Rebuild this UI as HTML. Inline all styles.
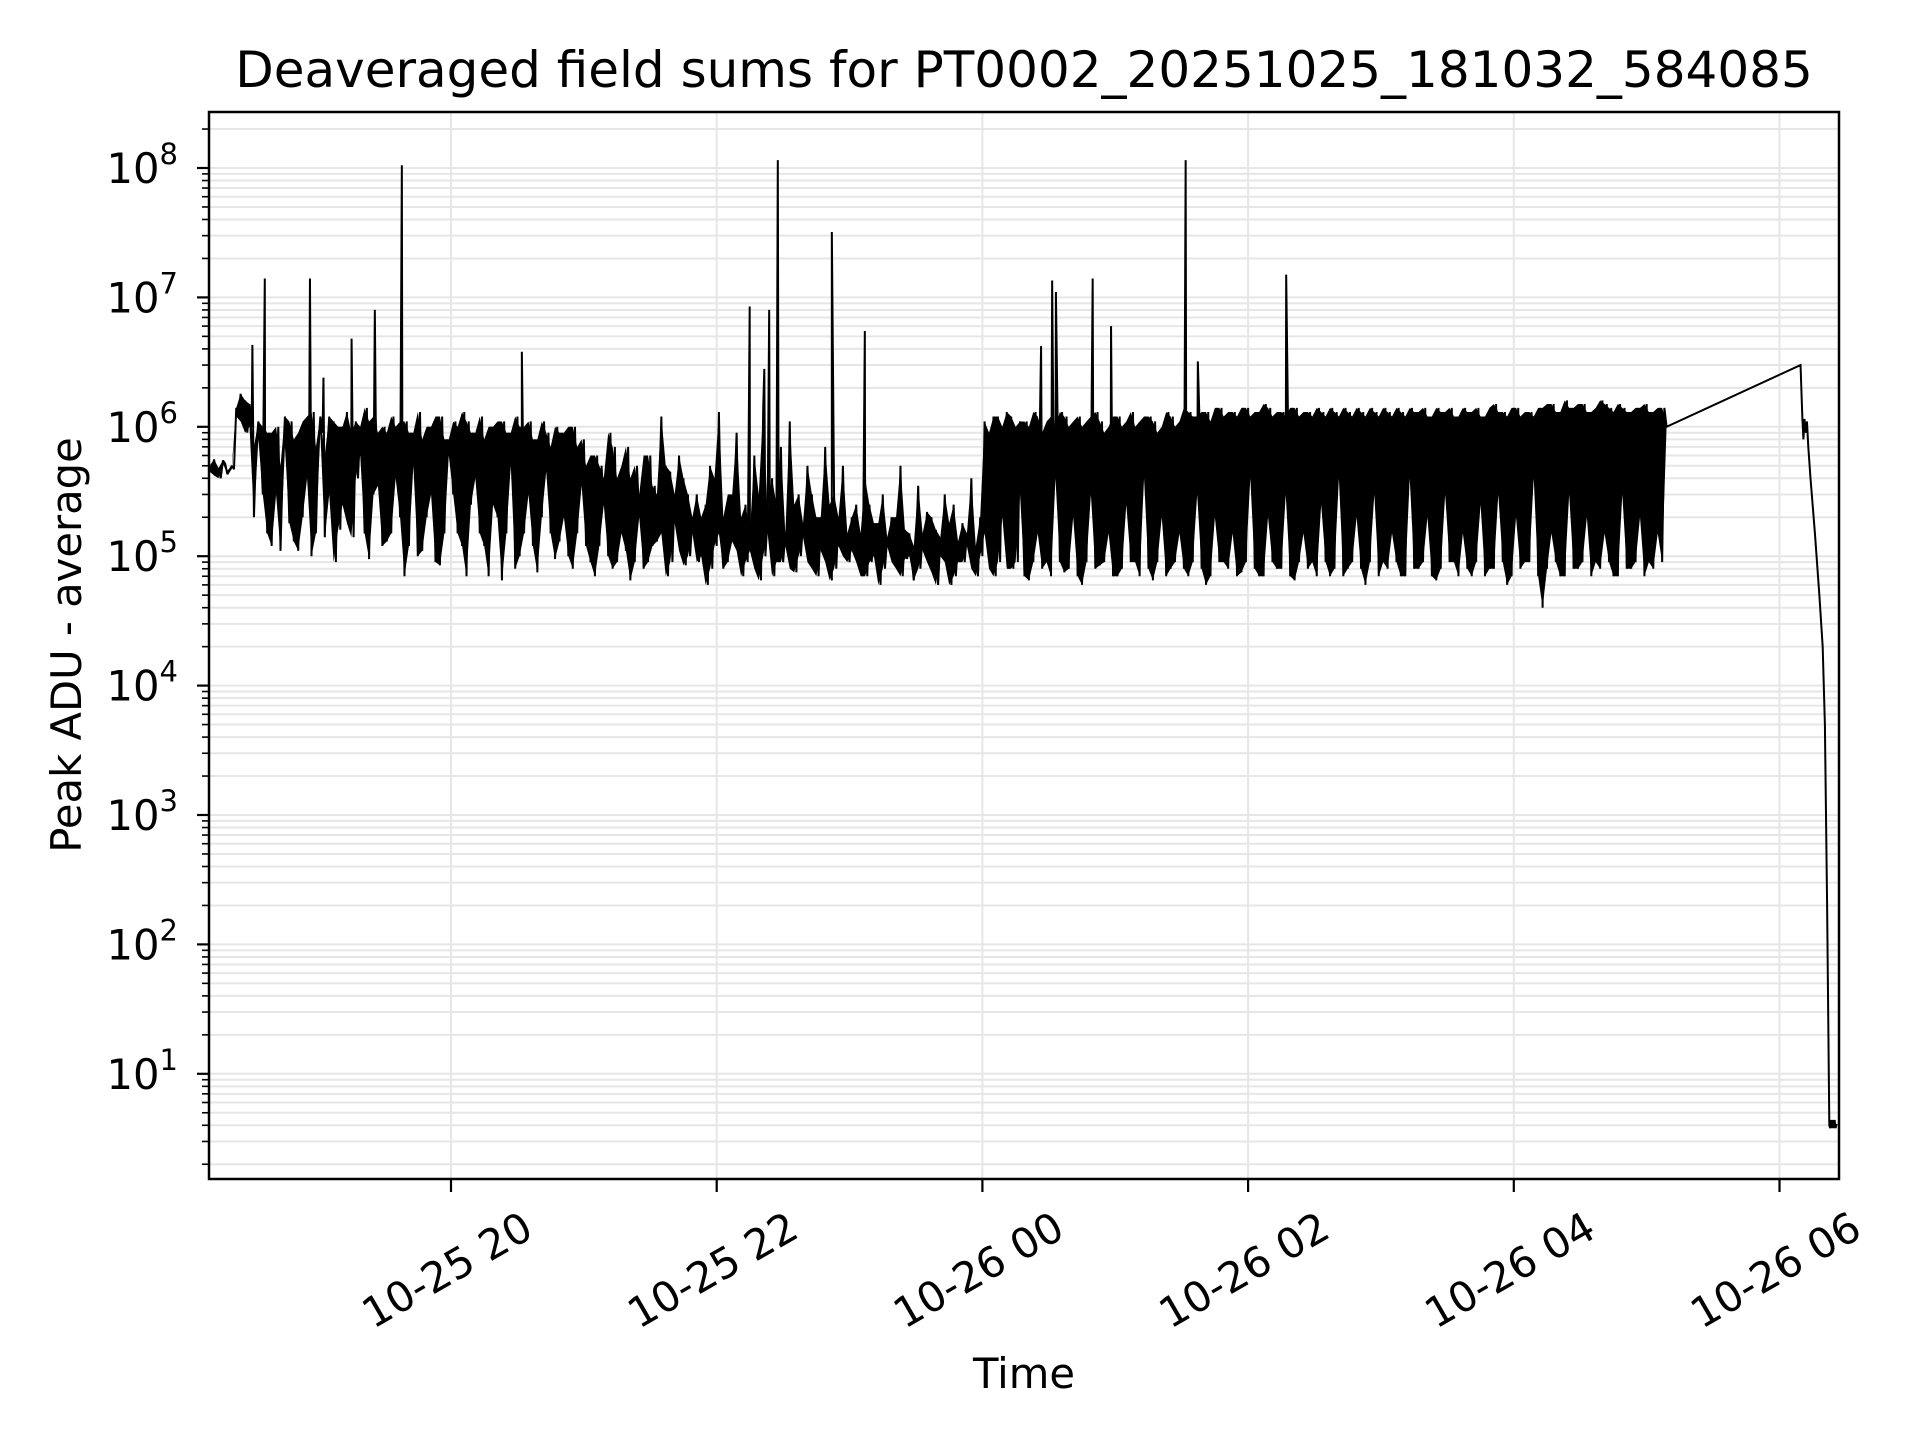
<!DOCTYPE html>
<html><head><meta charset="utf-8"><title>Deaveraged field sums</title>
<style>html,body{margin:0;padding:0;background:#fff}svg{display:block}text{font-family:"DejaVu Sans","Liberation Sans",sans-serif;fill:#000}</style>
</head><body>
<svg id="chart" width="1920" height="1440" viewBox="0 0 1920 1440" xmlns="http://www.w3.org/2000/svg">
<rect x="0" y="0" width="1920" height="1440" fill="#fff"/>
<g id="grid"></g>
<g id="series"></g>
<g id="axes"></g>
<text x="1024" y="87" font-size="50" text-anchor="middle">Deaveraged field sums for PT0002_20251025_181032_584085</text>
<text x="1024" y="1388" font-size="41.7" text-anchor="middle">Time</text>
<text transform="translate(81,645) rotate(-90)" font-size="41.7" text-anchor="middle">Peak ADU - average</text>
</svg>
<script>
// dense series: 2-minute bins starting at minute 11 after 18:00; two samples per bin (values in thousands of ADU)
const denseStart = 11;
const denseStep = 2;
const valuesK = [
450,560,400,520,430,500,
1200,1800,900,1500,
700,1100,300,900,120,1000,500,1200,180,800,
110,1100,400,1300,150,900,600,1200,90,1000,
250,1300,140,1100,600,1400,95,1200,350,1000,
130,1200,400,1100,70,900,500,1300,110,1000,
300,1200,85,800,600,1100,150,1300,70,900,
400,1200,120,1000,250,1100,65,900,500,1200,
100,1000,300,800,75,1100,450,700,95,900,
200,1000,80,700,350,
120,600,70,500,250,900,80,400,150,700,
65,500,200,600,90,350,130,1200,70,450,
180,600,85,300,150,
90,200,60,500,120,1300,80,300,130,900,
70,250,110,600,65,1400,150,400,90,700,
120,1100,75,300,140,500,80,200,110,700,
65,300,120,500,90,
110,250,70,400,90,180,60,300,120,200,
80,500,95,150,65,350,110,220,75,160,
100,300,60,250,90,180,120,400,70,200,
150,900,70,1200,200,1300,80,1000,300,1100,
65,1300,150,900,90,1200,400,1300,75,1000,
200,1200,60,1100,300,1300,85,900,150,1200,
70,1000,250,1300,90,1100,400,1200,65,900,
200,1300,80,1000,150,
1400,70,1200,300,1300,60,1100,200,1400,90,
1300,150,1200,75,1400,400,1300,70,1500,200,
1200,80,1300,300,1400,65,1200,150,1300,90,
1400,250,1200,70,1300,400,1400,80,1200,200,
1300,60,1400,300,1200,90,1300,150,1400,70,
1200,400,1300,80,1400,200,1200,65,1300,300,
1400,90,1200,150,1300,70,1400,250,1200,80,
1500,300,1300,60,1400,200,1200,90,1300,400,
1400,40,1500,150,1300,70,1600,300,1400,80,
1500,200,1300,90,1600,150,1400,70,1500,300,
1300,80,1400,200,1500,90,1300,150,1400,1050
];
const valuesK2 = [
500,420,480,550,460,470,
1400,1100,1600,1000,
200,800,1000,150,900,300,110,700,1100,130,
900,200,1200,100,700,1200,140,300,1100,160,
1000,180,900,400,1000,150,1100,300,900,120,
900,150,1000,200,1100,120,900,100,800,200,
1000,90,1200,150,800,300,1000,120,1100,250,
900,150,800,70,1000,200,1100,150,900,80,
1000,150,1100,120,800,200,900,150,1000,130,
900,100,1000,150,800,
500,90,600,120,400,100,700,90,500,110,
400,90,300,80,600,120,300,150,500,90,
300,110,400,100,200,
300,100,250,80,400,150,200,90,300,110,
200,90,150,80,300,100,200,70,250,90,
150,80,250,100,180,90,300,70,200,90,
250,80,200,100,150,
200,90,150,70,250,100,180,80,140,90,
200,70,160,100,120,80,150,90,200,60,
140,90,180,70,130,90,150,80,120,100,
1100,80,1200,90,1000,80,1200,90,1100,70,
1000,90,1200,80,1100,70,1000,90,1200,80,
1100,70,1000,90,1200,80,1100,90,1000,70,
1200,80,1100,90,1000,70,1200,80,1100,90,
1000,70,1200,90,1100,
80,1300,90,1200,80,1300,70,1400,90,1200,
80,1300,70,1400,90,1200,80,1300,70,1400,
90,1300,80,1200,70,1400,90,1300,80,1200,
70,1300,90,1400,80,1200,70,1300,90,1400,
80,1200,90,1300,70,1400,80,1200,90,1300,
70,1400,80,1300,90,1200,70,1400,80,1300,
90,1200,70,1400,80,1300,90,1200,70,1400,
80,1300,90,1200,70,1400,80,1300,90,1200,
70,1400,80,1500,90,1300,70,1400,80,1500,
90,1300,70,1400,80,1500,90,1300,70,1400,
80,1300,90,1400,70,1300,80,1400,90,1000
];
const spikeTimes = [30.3,35.9,56.3,62.4,75.1,85.6,97.8,152.0,254.9,261.5,263.7,267.6,292.0,306.9,386.5,391.5,393.2,409.8,418.1,451.8,457.3,497.2];
const spikeValues = [4.3e6,1.4e7,1.4e7,2.4e6,4.8e6,8e6,1.05e8,3.8e6,8.5e6,2.8e6,8e6,1.15e8,3.2e7,5.5e6,4.2e6,1.35e7,1.1e7,1.4e7,6e6,1.15e8,3.2e6,1.5e7];
const tailTimes = [729.5,730.3,730.8,731.3,731.8,732.4,733,734,736,738,739.5,740.5,741.5,742.5,742.9,743.3,743.7,744.1,744.5,744.9,745.3,745.8];
const tailValues = [3e6,1.2e6,8e5,1.15e6,9e5,1.1e6,7e5,4e5,1.5e5,5e4,2e4,5e3,2e2,4,3.8,4.4,3.8,4.4,3.8,4.4,3.8,4.1];
const hourTicks = [120,240,360,480,600,720];
const hourLabels = ["10-25 20","10-25 22","10-26 00","10-26 02","10-26 04","10-26 06"];
const decadeTicks = [1,2,3,4,5,6,7,8];

const NS="http://www.w3.org/2000/svg";
const L=209,R=1839,T=112,B=1179;
function xs(m){return 451+(m-120)*2.21417;}
function ys(v){return 168+(8-Math.log10(v))*129.4;}
function mk(tag,attrs,parent){const e=document.createElementNS(NS,tag);for(const k in attrs)e.setAttribute(k,attrs[k]);parent.appendChild(e);return e;}
const grid=document.getElementById('grid'),axes=document.getElementById('axes'),series=document.getElementById('series');

for(let d=0;d<=8;d++){for(let k=1;k<=9;k++){const v=k*Math.pow(10,d);const y=ys(v);if(y<T||y>B)continue;
 const g=mk('line',{x1:L,x2:R,y1:y,y2:y,stroke:'#e6e6e6','stroke-width':2},grid);
 
 
 const t=mk('line',{x1:L-(k===1?12:7),x2:L,y1:y,y2:y,stroke:'#000','stroke-width':k===1?2.2:1.6},axes);
 
 
}}
hourTicks.forEach((m,i)=>{const x=xs(m);
 const g=mk('line',{x1:x,x2:x,y1:T,y2:B,stroke:'#e6e6e6','stroke-width':2},grid);
 
 
 const t=mk('line',{x1:x,x2:x,y1:B,y2:B+13,stroke:'#000','stroke-width':2.2},axes);
 
 
 const cx=x-4,cy=1270;
 const lab=mk('text',{x:cx,y:cy,'font-size':41.7,'text-anchor':'middle','dominant-baseline':'central',transform:`rotate(-30 ${cx} ${cy})`},axes);
 lab.textContent=hourLabels[i];
 
 
});
decadeTicks.forEach(d=>{const y=ys(Math.pow(10,d));
 const lab=mk('text',{x:178,y:y+15,'font-size':41.7,'text-anchor':'end'},axes);
 lab.appendChild(document.createTextNode('10'));
 const s=mk('tspan',{dy:-19,'font-size':29},lab);s.textContent=String(d);
 
 
});
const fr=mk('rect',{x:L,y:T,width:R-L,height:B-T,fill:'none',stroke:'#000','stroke-width':2.5},axes);



// min/max envelope of each 2-minute bin (what a dense line fills)
let upper=[],lower=[];
valuesK.forEach((v,i)=>{const t=denseStart+denseStep*i;
 const hi=Math.max(v,valuesK2[i])*1000,lo=Math.min(v,valuesK2[i])*1000;
 upper.push([t,hi]);lower.push([t,lo]);
});
const envD='M'+upper.map(p=>xs(p[0]).toFixed(2)+' '+ys(p[1]).toFixed(2)).join('L')+'L'+lower.slice().reverse().map(p=>xs(p[0]).toFixed(2)+' '+ys(p[1]).toFixed(2)).join('L')+'Z';
const env=mk('path',{d:envD,fill:'#000',stroke:'none'},series);



let pts=[];let prev=Math.log10(valuesK[0]*1000);
valuesK.forEach((v,i)=>{const t=denseStart+denseStep*i;
 const a=v*1000,b=valuesK2[i]*1000;
 let first=a,second=b;
 if(Math.abs(Math.log10(a)-prev)<Math.abs(Math.log10(b)-prev)){first=b;second=a;}
 pts.push([t,first]);
 if(i<valuesK.length-1){pts.push([t+1,second]);prev=Math.log10(second);} else prev=Math.log10(first);
});
spikeTimes.forEach((t,i)=>pts.push([t,spikeValues[i]]));
pts.sort((a,b)=>a[0]-b[0]);
tailTimes.forEach((t,i)=>pts.push([t,tailValues[i]]));
const d=pts.map((p,i)=>(i?'L':'M')+xs(p[0]).toFixed(2)+' '+ys(p[1]).toFixed(2)).join('');
const path=mk('path',{d:d,fill:'none',stroke:'#000','stroke-width':2,'stroke-linejoin':'miter','stroke-miterlimit':2},series);


</script>
</body></html>
